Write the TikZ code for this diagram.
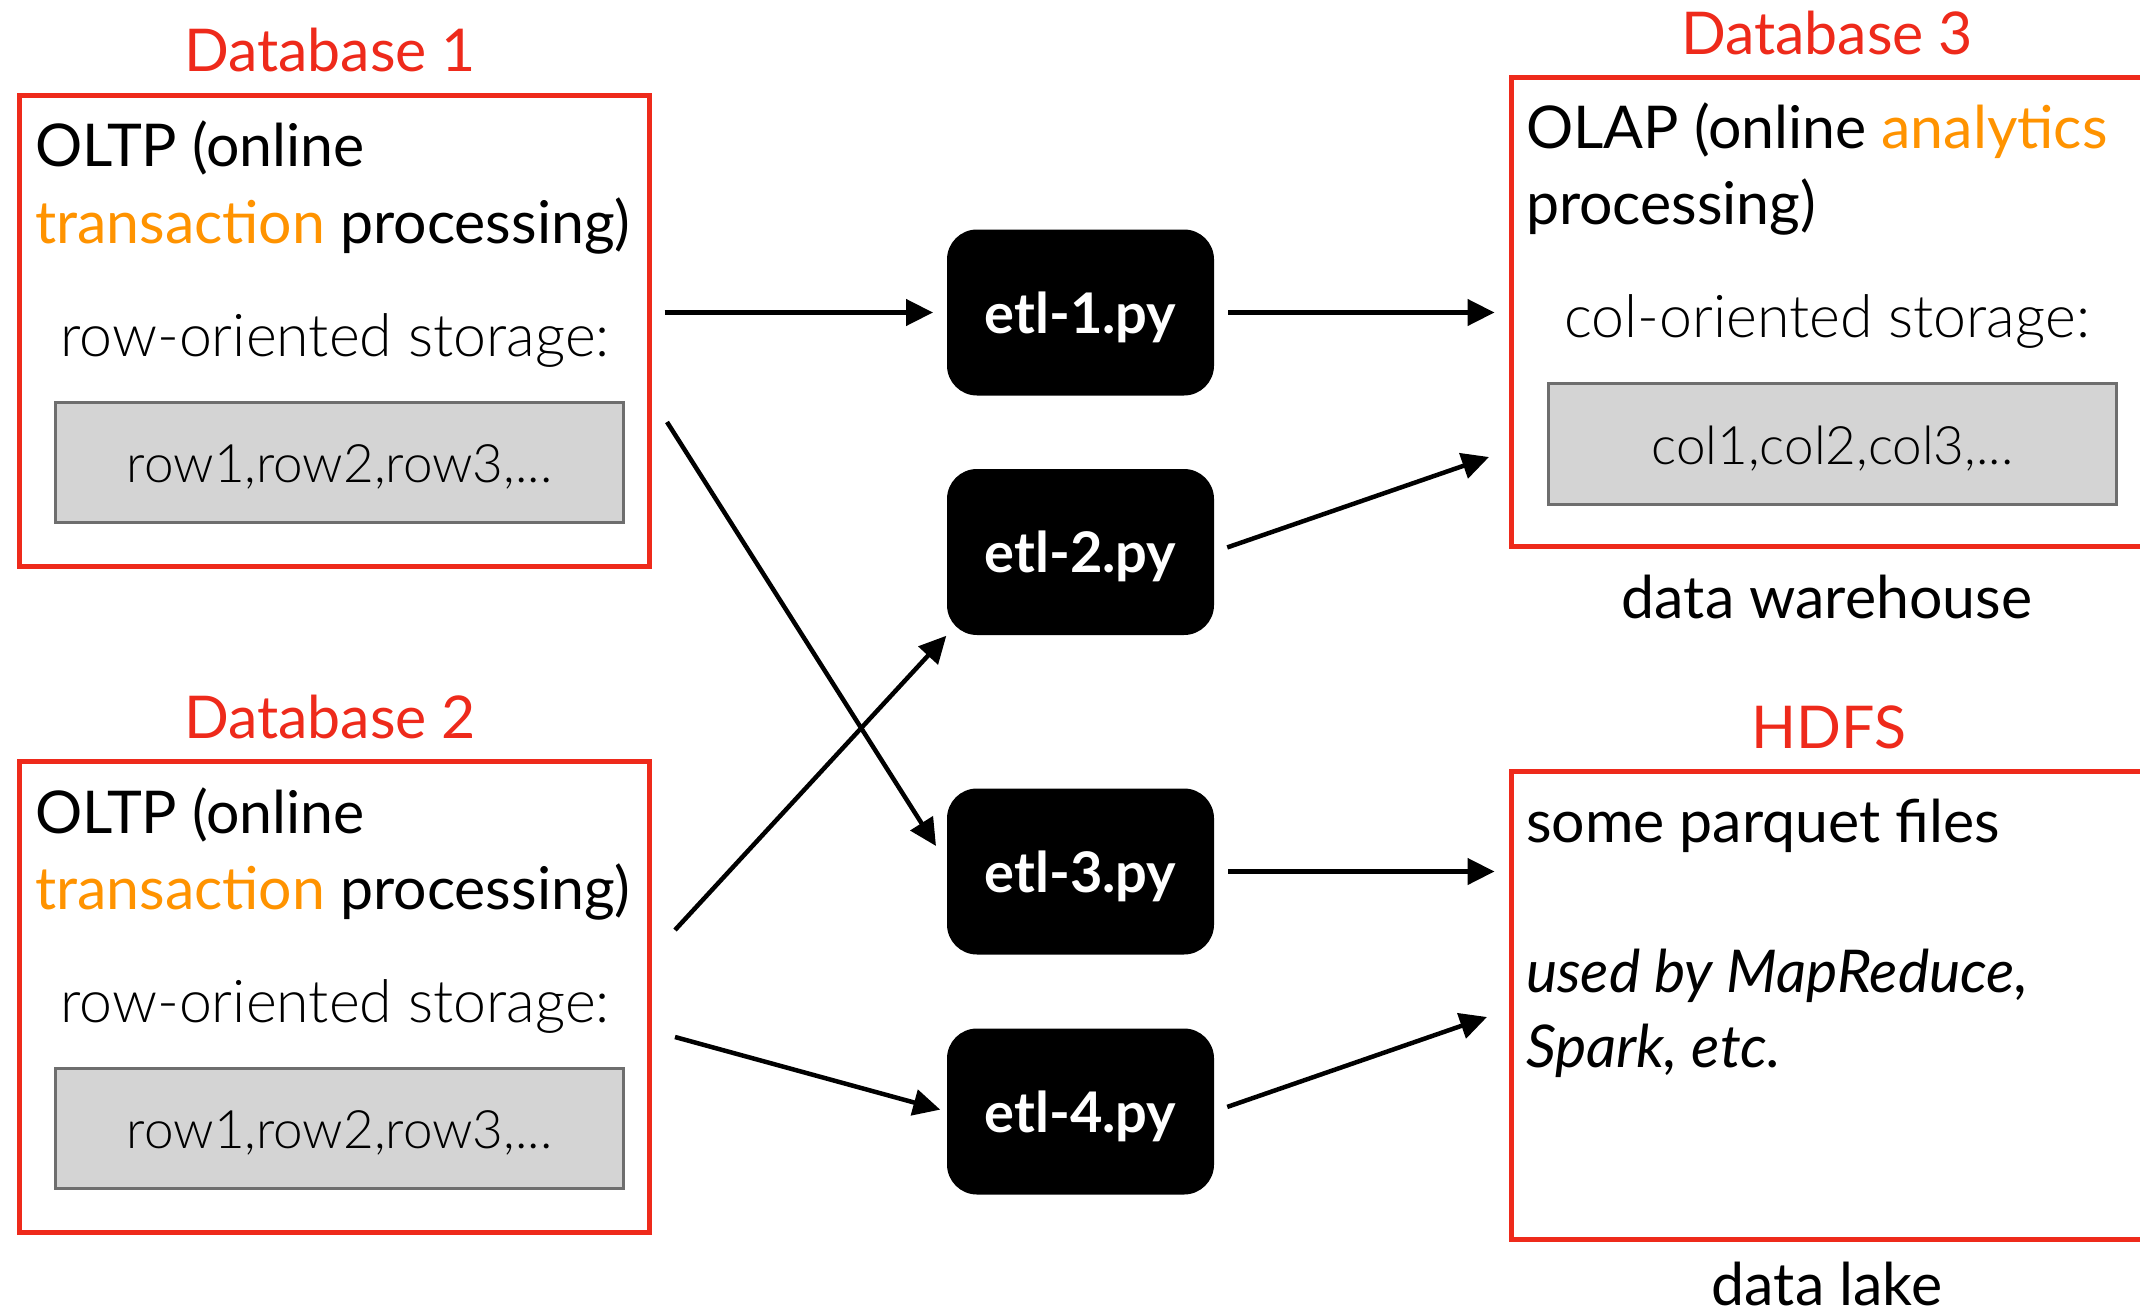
\documentclass[tikz,border=0pt]{standalone}
\usepackage{fontspec}
\setmainfont{Lato}
\newfontfamily\lightfont{Lato Light}
\usetikzlibrary{arrows.meta,calc}
\definecolor{dbred}{HTML}{EE2A1B}
\definecolor{hlorange}{HTML}{FF9300}
\definecolor{storefill}{HTML}{D4D4D4}
\definecolor{storeline}{HTML}{6E6E6E}
\newcommand{\bigtext}{\fontsize{59}{62}\selectfont}
\newcommand{\storetext}{\fontsize{53}{56}\selectfont}
\newcommand{\etltext}{\fontsize{56}{60}\selectfont\bfseries}
\tikzset{
  redbox/.style={draw=dbred,line width=5pt,inner sep=0pt,outer sep=0pt,anchor=north west},
  store/.style={draw=storeline,fill=storefill,line width=3pt,inner sep=0pt,outer sep=0pt,
     minimum width=568pt,minimum height=120pt,text height=40pt,text depth=0pt,
     font=\storetext\lightfont},
  etlbox/.style={fill=black,rounded corners=30pt,inner sep=0pt,outer sep=0pt,
     minimum width=267pt,minimum height=166pt,text=white,text height=41pt,text depth=0pt,
     font=\etltext},
  txt/.style={inner sep=0pt,outer sep=0pt,font=\bigtext},
  lighttxt/.style={inner sep=0pt,outer sep=0pt,font=\bigtext\lightfont},
  title/.style={inner sep=0pt,outer sep=0pt,font=\bigtext,text=dbred,anchor=base},
  arr/.style={line width=4.5pt,-{Triangle[length=27pt,width=26pt]}}
}
\begin{document}
\begin{tikzpicture}[x=1pt,y=-1pt]
\useasboundingbox[fill=white] (0,0) rectangle (2140,1316);

% ---------- Database 1 ----------
\node[title] (t1) at (330,72) {Database 1};
\node[redbox,minimum width=630pt,minimum height=471pt] (db1) at (19.5,95.5) {};
\node[txt,anchor=base west] (o1a) at (35,167) {OLTP (online};
\node[txt,anchor=base west] (o1b) at (35,243) {\textcolor{hlorange}{transaction} processing)};
\node[lighttxt,anchor=base] (r1) at (335,356) {row-oriented storage:};
\node[store] (s1) at (339.5,462.5) {row1,row2,row3,...};

% ---------- Database 2 ----------
\node[title] (t2) at (330,738) {Database 2};
\node[redbox,minimum width=630pt,minimum height=471pt] (db2) at (19.5,761.5) {};
\node[txt,anchor=base west] (o2a) at (35,833) {OLTP (online};
\node[txt,anchor=base west] (o2b) at (35,909) {\textcolor{hlorange}{transaction} processing)};
\node[lighttxt,anchor=base] (r2) at (335,1022) {row-oriented storage:};
\node[store] (s2) at (339.5,1128.5) {row1,row2,row3,...};

% ---------- ETL jobs ----------
\node[etlbox] (etl1) at (1080.5,312.5) {etl-1.py};
\node[etlbox] (etl2) at (1080.5,552) {etl-2.py};
\node[etlbox] (etl3) at (1080.5,871.5) {etl-3.py};
\node[etlbox] (etl4) at (1080.5,1111.5) {etl-4.py};

% ---------- Database 3 ----------
\node[title] (t3) at (1827,55) {Database 3};
\node[redbox,minimum width=640pt,minimum height=468.5pt] (db3) at (1511.5,78) {};
\node[txt,anchor=base west] (o3a) at (1526,149) {OLAP (online \textcolor{hlorange}{analytics}};
\node[txt,anchor=base west] (o3b) at (1526,224) {processing)};
\node[lighttxt,anchor=base] (r3) at (1827,337) {col-oriented storage:};
\node[store,minimum height=121pt] (s3) at (1832.5,444) {col1,col2,col3,...};
\node[txt,anchor=base] (dw) at (1827,618) {data warehouse};

% ---------- HDFS ----------
\node[title] (t4) at (1829,748) {HDFS};
\node[redbox,minimum width=640pt,minimum height=468pt] (hdfs) at (1511.5,771.5) {};
\node[txt,anchor=base west] (h1) at (1526,842) {some parquet files};
\node[txt,anchor=base west] (h2) at (1526,992) {\itshape used by MapReduce,};
\node[txt,anchor=base west] (h3) at (1526,1067) {\itshape Spark, etc.};
\node[txt,anchor=base] (dl) at (1827,1305) {data lake};

% ---------- connector end points ----------
\coordinate (c3s) at (667,422);
\coordinate (c3e) at (936,846);
\coordinate (c4s) at (675,930);
\coordinate (c7s) at (675,1037);
\coordinate (c5e) at (1489,457);
\coordinate (c8e) at (1487,1017);

% ---------- connectors ----------
\draw[arr,shorten <=15pt,shorten >=14pt] (db1.east |- etl1.west) -- (etl1.west);
\draw[arr,shorten <=14pt,shorten >=17pt] (etl1.east) -- (etl1.east -| db3.west);
\draw[arr] (c3s) -- (c3e);
\draw[arr,shorten >=1pt] (c4s) -- (etl2.south west);
\draw[arr,shorten <=14pt] (etl2.east) -- (c5e);
\draw[arr,shorten <=14pt,shorten >=17pt] (etl3.east) -- (etl3.east -| hdfs.west);
\draw[arr,shorten >=7pt] (c7s) -- (etl4.west);
\draw[arr,shorten <=14pt] (etl4.east) -- (c8e);
\end{tikzpicture}
\end{document}
